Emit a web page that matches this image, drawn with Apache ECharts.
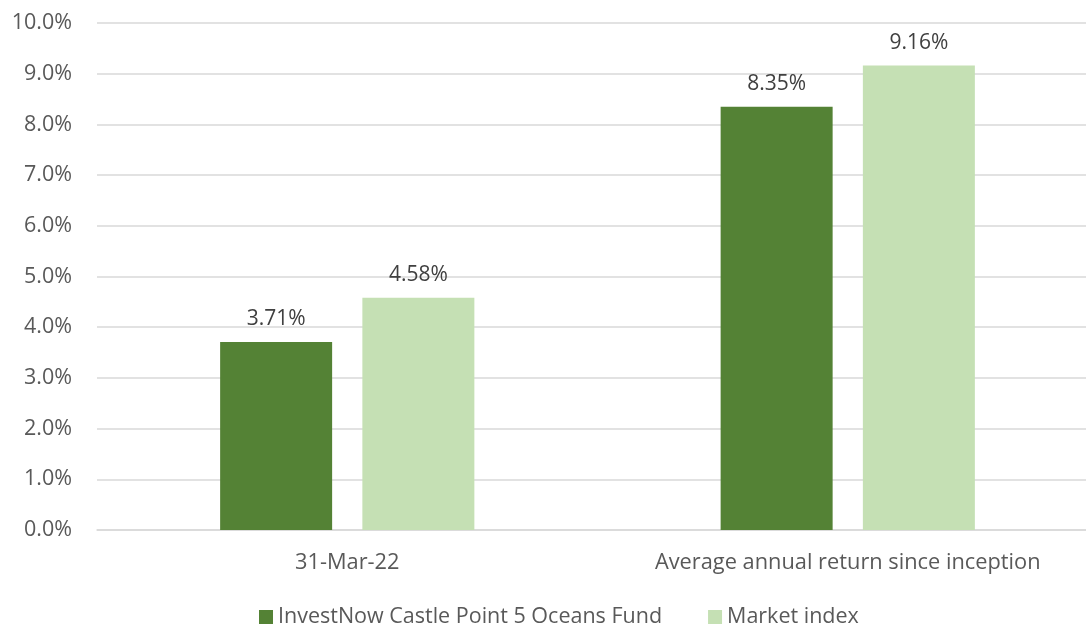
<!DOCTYPE html>
<html><head><meta charset="utf-8">
<script src="https://cdn.jsdelivr.net/npm/echarts@6/dist/echarts.min.js"></script>
<style>html,body{margin:0;padding:0;background:#fff}#c{width:1086px;height:627px}</style>
</head><body><div id="c"></div>
<script>
const categories = ['31-Mar-22', 'Average annual return since inception'];
const fundName = 'InvestNow Castle Point 5 Oceans Fund';
const indexName = 'Market index';
const fundValues = [3.71, 8.35];
const indexValues = [4.58, 9.16];

const font = '"Open Sans", "Noto Sans", sans-serif';
const chart = echarts.init(document.getElementById('c'));
const labelCfg = {show: true, position: 'top', distance: 12, color: '#404040', fontSize: 21, fontFamily: font,
  formatter: p => p.value.toFixed(2) + '%'};
chart.setOption({
  animation: false,
  textStyle: {fontFamily: font},
  grid: {left: 97, top: 23, width: 1001, height: 507, containLabel: false, outerBoundsMode: 'none'},
  legend: {top: 601, left: 254, itemWidth: 14, itemHeight: 14, itemGap: 46, icon: 'rect',
    textStyle: {color: '#595959', fontSize: 21.5, fontFamily: font},
    data: [fundName, indexName]},
  xAxis: {type: 'category', data: categories,
    axisLine: {lineStyle: {color: '#d9d9d9', width: 1.5}}, axisTick: {show: false},
    axisLabel: {color: '#595959', fontSize: 21.8, fontFamily: font, margin: 22, interval: 0, hideOverlap: false}},
  yAxis: {type: 'value', min: 0, max: 10, interval: 1,
    axisLine: {show: false}, axisTick: {show: false},
    splitLine: {lineStyle: {color: '#d9d9d9', width: 1.5}},
    axisLabel: {color: '#595959', fontSize: 21.5, fontFamily: font, margin: 25,
      formatter: v => v.toFixed(1) + '%'}},
  series: [
    {name: fundName, type: 'bar', data: fundValues, barWidth: 112, barGap: '27%',
      itemStyle: {color: '#548235'}, label: labelCfg},
    {name: indexName, type: 'bar', data: indexValues, barWidth: 112,
      itemStyle: {color: '#C5E0B4'}, label: labelCfg}
  ]
});
</script></body></html>
